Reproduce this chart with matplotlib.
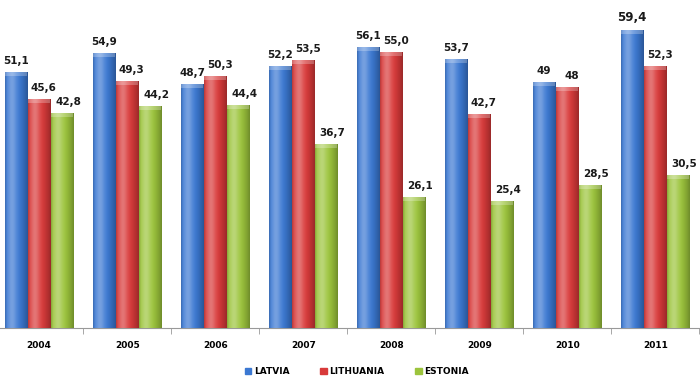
import numpy as np
import matplotlib
matplotlib.use("Agg")
import matplotlib.pyplot as plt
from matplotlib.colors import to_rgb

years = ["2004", "2005", "2006", "2007", "2008", "2009", "2010", "2011"]
latvia = [51.1, 54.9, 48.7, 52.2, 56.1, 53.7, 49.0, 59.4]
lithuania = [45.6, 49.3, 50.3, 53.5, 55.0, 42.7, 48.0, 52.3]
estonia = [42.8, 44.2, 44.4, 36.7, 26.1, 25.4, 28.5, 30.5]
latvia_txt = ["51,1", "54,9", "48,7", "52,2", "56,1", "53,7", "49", "59,4"]
lithuania_txt = ["45,6", "49,3", "50,3", "53,5", "55,0", "42,7", "48", "52,3"]
estonia_txt = ["42,8", "44,2", "44,4", "36,7", "26,1", "25,4", "28,5", "30,5"]

series = [("LATVIA", latvia, latvia_txt, "#3b78d2"),
          ("LITHUANIA", lithuania, lithuania_txt, "#d83a3a"),
          ("ESTONIA", estonia, estonia_txt, "#9cc43c")]


def shade(color, n=40):
    # horizontal cylinder-like gradient
    base = np.array(to_rgb(color))
    t = np.linspace(0, 1, n)
    light = np.exp(-((t - 0.3) / 0.22) ** 2) * 0.3
    dark = np.clip((t - 0.55) / 0.45, 0, 1) ** 1.5 * 0.28 + np.clip((0.08 - t) / 0.08, 0, 1) * 0.15
    rgb = base[None, :] * (1 - dark[:, None]) + (1 - base[None, :]) * light[:, None]
    return np.clip(rgb, 0, 1)[None, :, :]


fig = plt.figure(figsize=(7, 3.82), dpi=100)
ax = fig.add_axes([-0.007, 0.141, 1.006, 0.854])

x = np.arange(len(years))
step = 0.262
w = 0.25
label_shift = [0.0, 0.05, 0.07]
for i, (name, vals, txt, col) in enumerate(series):
    pos = x + (i - 1) * step
    bars = ax.bar(pos, vals, w, color=col, edgecolor="none", label=name, zorder=2)
    for b, t in zip(bars, txt):
        x0, x1 = b.get_x(), b.get_x() + b.get_width()
        h = b.get_height()
        im = ax.imshow(shade(col), extent=[x0, x1, 0, h], aspect="auto", zorder=3, interpolation="bilinear")
        im.set_clip_path(b)
        # lighter cap on top of each bar
        ax.fill_between([x0, x1], h - 0.8, h, color="white", alpha=0.25, lw=0, zorder=3.5)
        fs = 8.5 if t == "59,4" else 7.5
        ax.text(b.get_x() + b.get_width() / 2 + label_shift[i], h + 1.2, t, ha="center", va="bottom",
                fontsize=fs, fontweight="bold", color="#1a1a1a", zorder=4)

ax.set_xlim(-0.5, len(years) - 0.5)
ax.set_ylim(0, 65)
ax.set_xticks(x)
ax.set_xticklabels(years, fontsize=6.5, fontweight="bold")
ax.set_xticks(np.arange(len(years) + 1) - 0.5, minor=True)
ax.tick_params(axis="x", which="major", length=0, pad=9)
ax.tick_params(axis="x", which="minor", length=4, color="#999999")
ax.set_yticks([])
for s in ["top", "right", "left"]:
    ax.spines[s].set_visible(False)
ax.spines["bottom"].set_color("#999999")

handles = [plt.Rectangle((0, 0), 1, 1, color=c) for _, _, _, c in series]
fig.legend(handles, [n for n, _, _, _ in series], loc="center", bbox_to_anchor=(0.51, 0.027),
           ncol=3, frameon=False, prop={"weight": "bold", "size": 6.5},
           handlelength=0.7, handleheight=0.7, columnspacing=3.4, handletextpad=0.3)

fig.savefig("out.png", dpi=100)
